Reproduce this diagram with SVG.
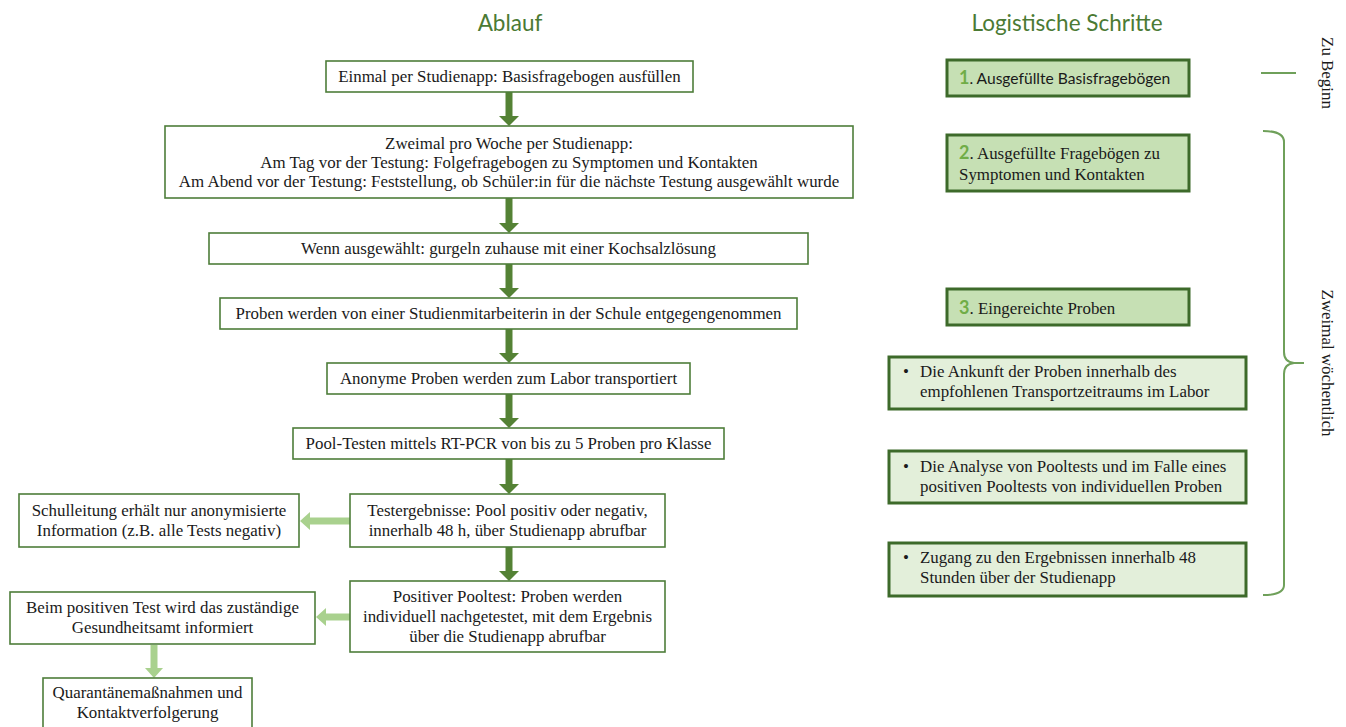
<svg xmlns="http://www.w3.org/2000/svg" width="1346" height="727" viewBox="0 0 1346 727">
<defs>
<style>
.t{font-family:"Liberation Serif","Times New Roman",serif;font-size:16.9px;fill:#1a1a1a}
.c{text-anchor:middle}
.title{font-family:Lato,"Open Sans",sans-serif;font-size:22.5px;fill:#4b7a34;text-anchor:middle}
.box{fill:#fff;stroke:#4e7d3a;stroke-width:1.6}
.rb1{fill:#c6e0b4;stroke:#3d6a2a;stroke-width:3}
.rb2{fill:#e3efda;stroke:#3d6a2a;stroke-width:3}
.num{font-family:Lato,"Open Sans",sans-serif;font-size:18px;fill:#70ad47;font-weight:bold}
.sans{font-family:Lato,"Open Sans",sans-serif;font-size:15.6px;fill:#1a1a1a}
.dk{stroke:#548235;stroke-width:7;fill:none}
.lt{stroke:#a9d18e;stroke-width:7;fill:none}
.brace{stroke:#6fa05a;stroke-width:2;fill:none}
</style>
<marker id="hd" markerUnits="userSpaceOnUse" viewBox="0 0 10 20" markerWidth="10" markerHeight="20" refX="0" refY="10" orient="auto">
<path d="M0,0 L10,10 L0,20 Z" fill="#548235"/>
</marker>
<marker id="hl" markerUnits="userSpaceOnUse" viewBox="0 0 10 18" markerWidth="10" markerHeight="18" refX="0" refY="9" orient="auto">
<path d="M0,0 L10,9 L0,18 Z" fill="#a9d18e"/>
</marker>
</defs>
<rect width="1346" height="727" fill="#fff"/>

<text class="title" x="510" y="31">Ablauf</text>
<text class="title" x="1067" y="31">Logistische Schritte</text>

<g id="connectors">
<line class="dk" x1="509" y1="92" x2="509" y2="116" marker-end="url(#hd)"/>
<line class="dk" x1="509" y1="198" x2="509" y2="223" marker-end="url(#hd)"/>
<line class="dk" x1="509" y1="264" x2="509" y2="288" marker-end="url(#hd)"/>
<line class="dk" x1="509" y1="329" x2="509" y2="353" marker-end="url(#hd)"/>
<line class="dk" x1="509" y1="394" x2="509" y2="418" marker-end="url(#hd)"/>
<line class="dk" x1="509" y1="459" x2="509" y2="484" marker-end="url(#hd)"/>
<line class="dk" x1="509" y1="547" x2="509" y2="571" marker-end="url(#hd)"/>
<line class="lt" x1="350" y1="521" x2="310" y2="521" marker-end="url(#hl)"/>
<line class="lt" x1="350" y1="617" x2="326" y2="617" marker-end="url(#hl)"/>
<line class="lt" x1="154" y1="645" x2="154" y2="668" marker-end="url(#hl)"/>
</g>

<g id="n1"><rect class="box" x="326" y="61" width="367" height="31"/>
<text class="t c" x="509.5" y="82">Einmal per Studienapp: Basisfragebogen ausfüllen</text></g>

<g id="n2"><rect class="box" x="165" y="126" width="688" height="72"/>
<text class="t c" x="509" y="149">Zweimal pro Woche per Studienapp:</text>
<text class="t c" x="509" y="168">Am Tag vor der Testung: Folgefragebogen zu Symptomen und Kontakten</text>
<text class="t c" x="509" y="187">Am Abend vor der Testung: Feststellung, ob Schüler:in für die nächste Testung ausgewählt wurde</text></g>

<g id="n3"><rect class="box" x="209" y="233" width="599" height="31"/>
<text class="t c" x="508.5" y="254">Wenn ausgewählt: gurgeln zuhause mit einer Kochsalzlösung</text></g>

<g id="n4"><rect class="box" x="220" y="298" width="577" height="31"/>
<text class="t c" x="508.5" y="319">Proben werden von einer Studienmitarbeiterin in der Schule entgegengenommen</text></g>

<g id="n5"><rect class="box" x="327" y="363" width="363" height="31"/>
<text class="t c" x="508.5" y="384">Anonyme Proben werden zum Labor transportiert</text></g>

<g id="n6"><rect class="box" x="293" y="428" width="431" height="31"/>
<text class="t c" x="508.5" y="449">Pool-Testen mittels RT-PCR von bis zu 5 Proben pro Klasse</text></g>

<g id="n7"><rect class="box" x="350" y="494" width="315" height="53"/>
<text class="t c" x="507.5" y="516">Testergebnisse: Pool positiv oder negativ,</text>
<text class="t c" x="507.5" y="536">innerhalb 48 h, über Studienapp abrufbar</text></g>

<g id="n8"><rect class="box" x="19" y="494" width="280" height="53"/>
<text class="t c" x="159" y="516">Schulleitung erhält nur anonymisierte</text>
<text class="t c" x="159" y="536">Information (z.B. alle Tests negativ)</text></g>

<g id="n9"><rect class="box" x="350" y="581" width="315" height="71"/>
<text class="t c" x="507.5" y="602">Positiver Pooltest: Proben werden</text>
<text class="t c" x="507.5" y="622">individuell nachgetestet, mit dem Ergebnis</text>
<text class="t c" x="507.5" y="642">über die Studienapp abrufbar</text></g>

<g id="n10"><rect class="box" x="10" y="592" width="305" height="52"/>
<text class="t c" x="162.5" y="613">Beim positiven Test wird das zuständige</text>
<text class="t c" x="162.5" y="633">Gesundheitsamt informiert</text></g>

<g id="n11"><rect class="box" x="43" y="678" width="209" height="60"/>
<text class="t c" x="147.5" y="698">Quarantänemaßnahmen und</text>
<text class="t c" x="147.5" y="718">Kontaktverfolgerung</text></g>

<g id="r1"><rect class="rb1" x="947" y="60" width="242" height="36"/>
<text x="959" y="84"><tspan class="num">1</tspan><tspan class="sans">. Ausgefüllte Basisfragebögen</tspan></text></g>

<g id="r2"><rect class="rb1" x="947" y="135" width="242" height="56"/>
<text x="959" y="159"><tspan class="num">2</tspan><tspan class="t">. Ausgefüllte Fragebögen zu</tspan></text>
<text class="t" x="959" y="180">Symptomen und Kontakten</text></g>

<g id="r3"><rect class="rb1" x="947" y="289" width="242" height="36"/>
<text x="959" y="314"><tspan class="num">3</tspan><tspan class="t">. Eingereichte Proben</tspan></text></g>

<g id="r4"><rect class="rb2" x="889" y="357" width="357" height="52"/>
<text class="t" x="903" y="377">•</text>
<text class="t" x="920" y="377">Die Ankunft der Proben innerhalb des</text>
<text class="t" x="920" y="397">empfohlenen Transportzeitraums im Labor</text></g>

<g id="r5"><rect class="rb2" x="889" y="451" width="357" height="52"/>
<text class="t" x="903" y="472">•</text>
<text class="t" x="920" y="472">Die Analyse von Pooltests und im Falle eines</text>
<text class="t" x="920" y="492">positiven Pooltests von individuellen Proben</text></g>

<g id="r6"><rect class="rb2" x="889" y="543" width="357" height="53"/>
<text class="t" x="903" y="563">•</text>
<text class="t" x="920" y="563">Zugang zu den Ergebnissen innerhalb 48</text>
<text class="t" x="920" y="583">Stunden über der Studienapp</text></g>

<g id="phase1">
<line class="brace" x1="1261" y1="73" x2="1296" y2="73"/>
<text class="t c" transform="translate(1327,73) rotate(90)" y="5">Zu Beginn</text>
</g>

<g id="phase2">
<path class="brace" d="M1263,131 Q1284,131 1284,142 L1284,352 Q1284,362 1294,363 L1304,363 M1294,363 Q1284,364 1284,374 L1284,585 Q1284,595 1263,595"/>
<text class="t c" transform="translate(1327,363) rotate(90)" y="5">Zweimal wöchentlich</text>
</g>
</svg>
